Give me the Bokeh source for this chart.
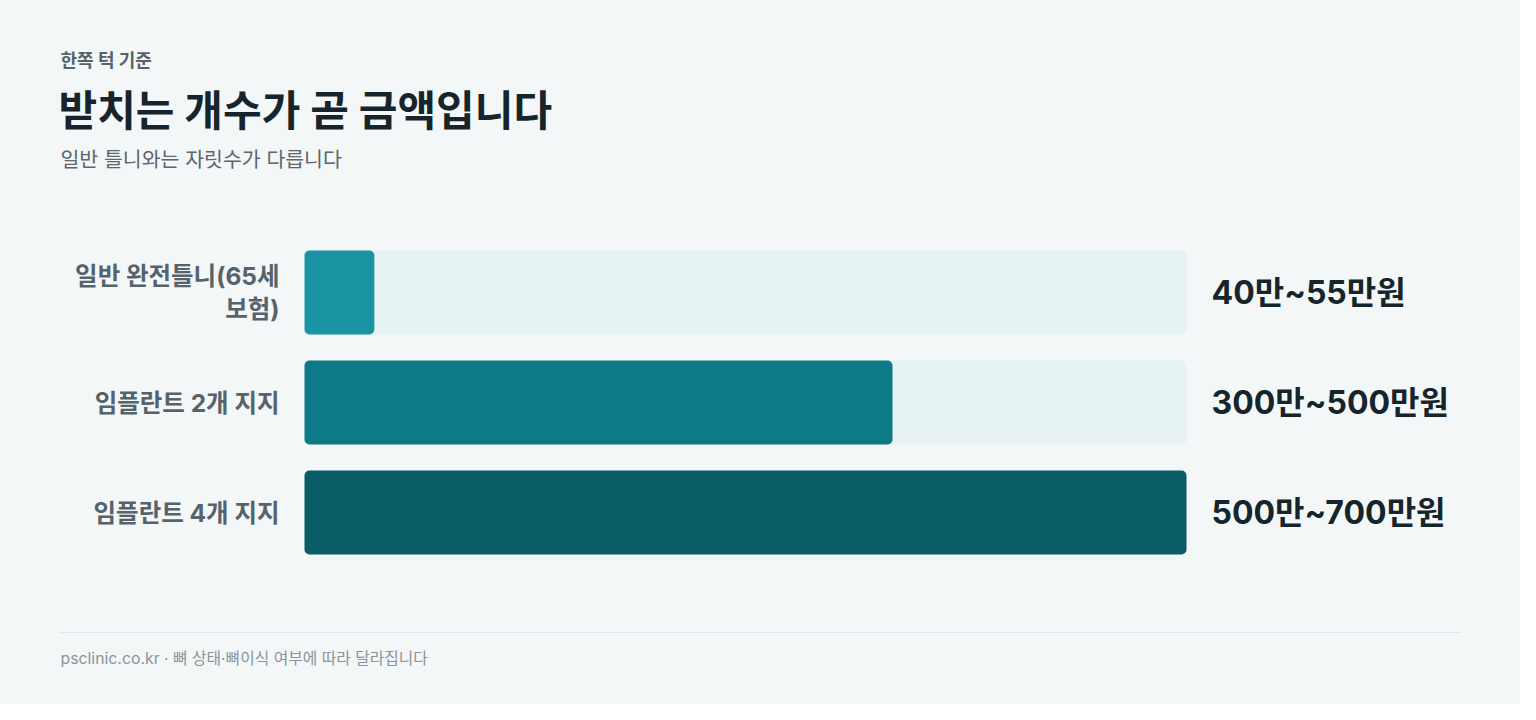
from bokeh.plotting import figure
from bokeh.models import Range1d, ColumnDataSource
from bokeh.core.properties import value
from bokeh.embed import file_html
from bokeh.resources import INLINE

# data (만원)
categories = ["일반 완전틀니(65세\n보험)", "임플란트 2개 지지", "임플란트 4개 지지"]
price_mid = [47.5, 400, 600]
price_labels = ["40만~55만원", "300만~500만원", "500만~700만원"]
bar_colors = ["#1a94a3", "#0c7a87", "#0a5c66"]
scale_max = 600

W, H = 1520, 704
X0 = 304          # pixel where 0 sits
TRACK_W = 882     # pixel length of the full track
PX = TRACK_W / scale_max
FONT = value("Inter, 'Noto Sans CJK KR'")


def px(x):
    # canvas pixel -> data x
    return (x - X0) / PX


p = figure(width=W, height=H, output_backend="svg", toolbar_location=None,
           x_range=Range1d(px(0), px(W)), y_range=Range1d(H, 0),
           min_border=0, background_fill_color="#f3f7f8",
           border_fill_color="#f3f7f8")
p.axis.visible = False
p.grid.visible = False
p.outline_line_color = None

row_y = [292, 402, 512]
src = ColumnDataSource(dict(y=row_y, cat=categories, mid=price_mid,
                            lab=price_labels, color=bar_colors,
                            full=[scale_max] * 3))

# track + bars
p.hbar(y="y", left=0, right="full", height=84, source=src,
       fill_color="#e7f2f5", line_color=None, border_radius=5)
p.hbar(y="y", left=0, right="mid", height=84, source=src,
       fill_color="color", line_color=None, border_radius=5)

# category labels
p.text(x=px(279), y="y", text="cat", source=src, text_font=FONT,
       text_font_size="24.5px", text_font_style="bold", text_color="#56636b",
       text_align="right", text_baseline="middle", text_line_height=1.08)

# value labels
p.text(x=px(1211), y="y", text="lab", source=src, text_font=FONT,
       text_font_size="32px", text_font_style="bold", text_color="#16252b",
       text_align="left", text_baseline="middle")

# titles
p.text(x=[px(60)], y=[60], text=["한쪽 턱 기준"], text_font=FONT,
       text_font_size="18px", text_font_style="bold", text_color="#56636b",
       text_baseline="middle")
p.text(x=[px(58)], y=[110], text=["받치는 개수가 곧 금액입니다"], text_font=FONT,
       text_font_size="42px", text_font_style="bold", text_color="#16252b",
       text_baseline="middle")
p.text(x=[px(60)], y=[159], text=["일반 틀니와는 자릿수가 다릅니다"], text_font=FONT,
       text_font_size="20.5px", text_color="#5b666d", text_baseline="middle")

# footer
p.line(x=[px(60), px(1460)], y=[632, 632], line_color="#e1e7e9", line_width=1)
p.text(x=[px(60)], y=[658], text=["psclinic.co.kr · 뼈 상태·뼈이식 여부에 따라 달라집니다"],
       text_font=FONT, text_font_size="15.8px", text_color="#8a949a",
       text_baseline="middle")

open("out.html", "w").write(file_html(p, INLINE))
